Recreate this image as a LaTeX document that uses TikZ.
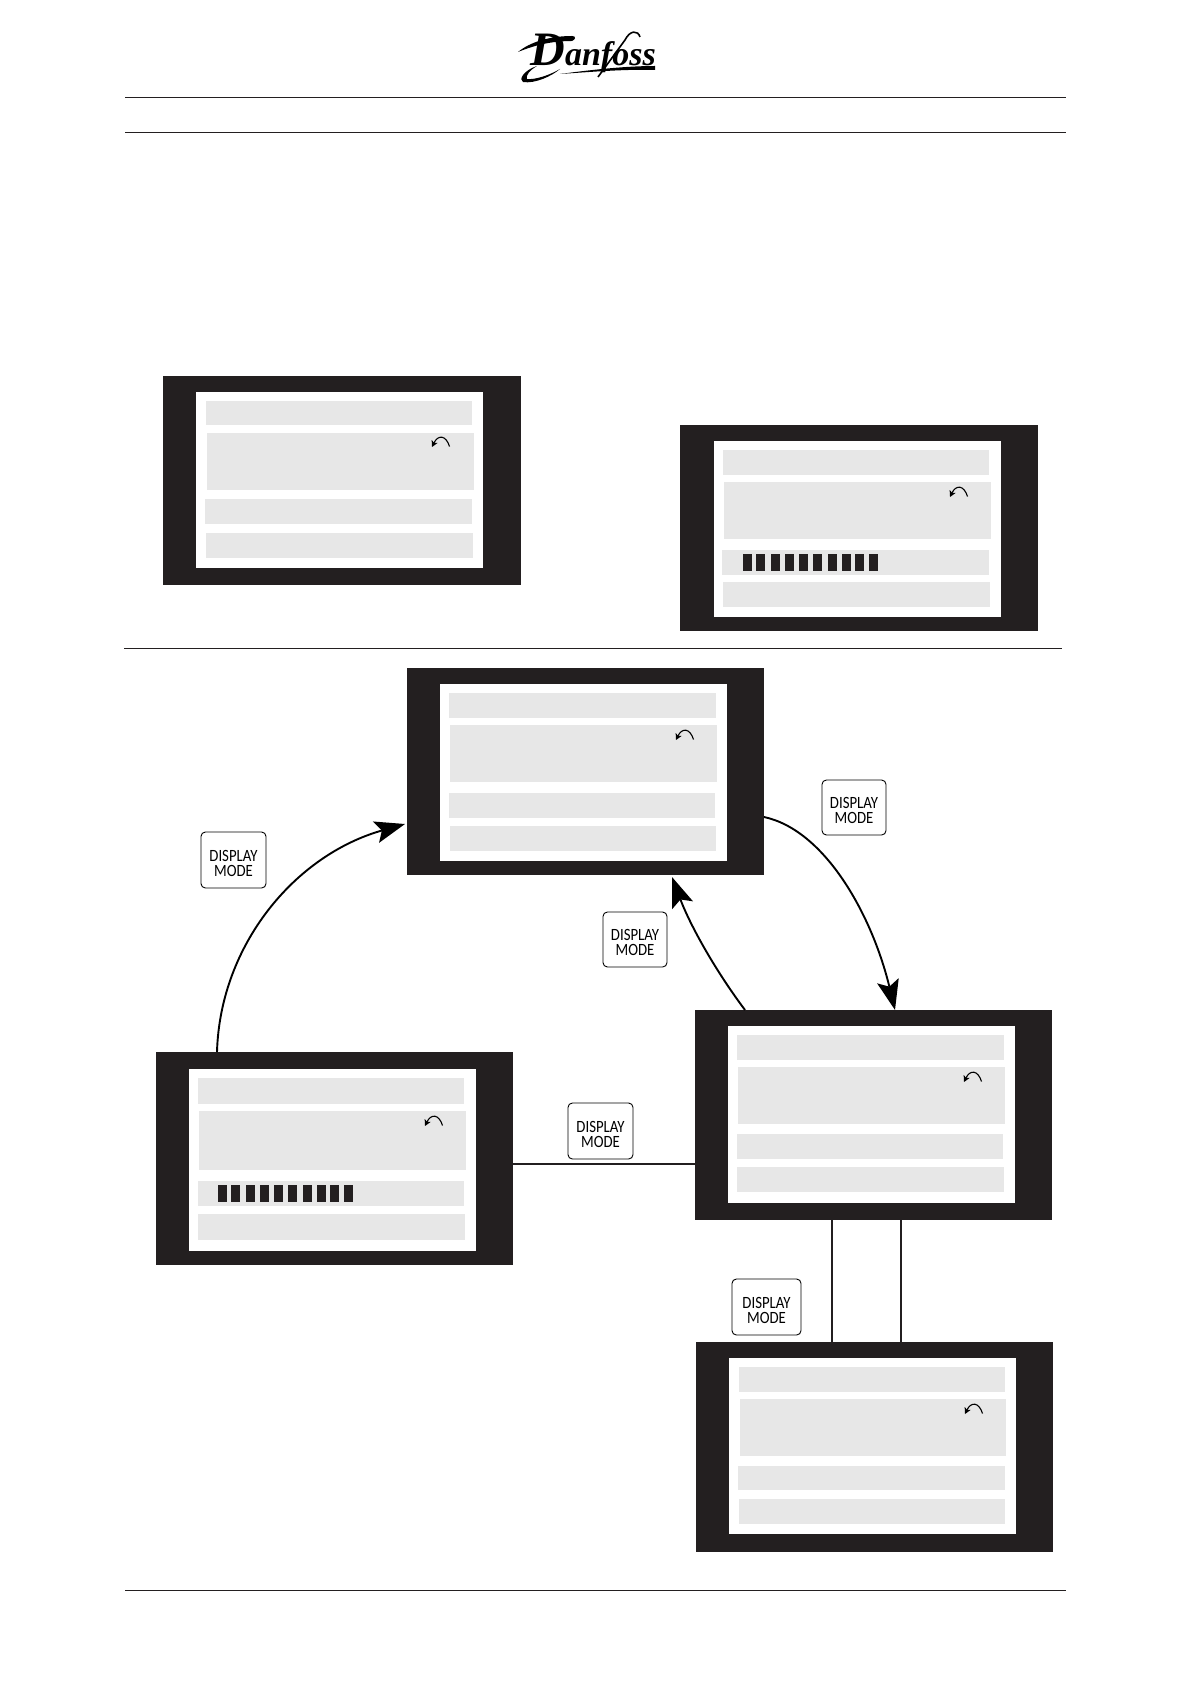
\documentclass[tikz,border=0pt]{standalone}
\usepackage{fontspec}
\setmainfont{Carlito}
\newfontfamily\logofont{Liberation Serif}
\usetikzlibrary{arrows.meta,calc}
\definecolor{scrdark}{HTML}{231F20}
\definecolor{scrbar}{HTML}{E7E7E7}
\tikzset{
  panel/.style={rectangle,inner sep=0pt,outer sep=0pt,anchor=north west},
  outerbox/.style={panel,fill=scrdark},
  innerbox/.style={panel,fill=white},
  barbox/.style={panel,fill=scrbar},
  blockbox/.style={panel,fill=scrdark},
  rule/.style={line width=0.45pt,color=scrdark},
  link/.style={line width=0.95pt,color=black},
  linkarrow/.style={link,-{Stealth[length=15pt,width=11pt,inset=3pt]}},
  plainlink/.style={line width=0.85pt,color=scrdark},
  keybox/.style={panel,draw=black,line width=0.45pt,rounded corners=2.2pt,align=center,
    font=\fontsize{8.6}{7.6}\selectfont,text=black},
  undoarrow/.style={line width=0.55pt,color=black,-{Stealth[length=3pt,width=3.2pt,inset=0.6pt]}}
}
% name, style, x1, y1, x2, y2 (in reference pixels)
\newcommand{\rectat}[6]{\node[#2,minimum width={(#5-(#3))*0.5pt},minimum height={(#6-(#4))*0.5pt}] (#1) at (#3,#4) {};}
\newcommand{\keyat}[5]{\node[keybox,minimum width={(#4-(#2))*0.5pt},minimum height={(#5-(#3))*0.5pt}] (#1) at (#2,#3) {\rule{0pt}{8.8pt}\scalebox{0.86}[1]{DISPLAY}\\[-0.3pt]\scalebox{0.86}[1]{MODE}};}
\newcommand{\undoat}[2]{\draw[undoarrow] (#1+17.5,#2+9.5) .. controls (#1+14,#2-2) and (#1+6,#2-2.5) .. (#1,#2+10);}
\newcommand{\blocksat}[3]{%
  \foreach \a/\b [count=\n] in {0/9,13/22,28/37,42/51,56/65,70/79,85/94,99/108,112/121,126/135}{
    \rectat{#1b\n}{blockbox}{#2+\a}{#3}{#2+\b}{#3+16.5}
  }}
\begin{document}
\begin{tikzpicture}[x=0.5pt,y=-0.5pt]
\useasboundingbox (0,0) rectangle (1190,1684);
\fill[white] (0,0) rectangle (1190,1684);

% logo
\node[inner sep=0pt,anchor=base west,text=black] (logotext) at (530,66)
  {\logofont\bfseries\itshape\fontsize{24}{24}\selectfont D\fontsize{17}{18}\selectfont anfoss};
\fill[black] (518,52) .. controls (530,42) and (550,36) .. (572,36) .. controls (577,36) and (575,40) .. (572,41)
  .. controls (552,41) and (535,45) .. (518,52) -- cycle;
\fill[black] (560,74) .. controls (590,70) and (625,66) .. (655,66) -- (655,70) .. controls (625,69) and (590,72) .. (560,74) -- cycle;
\fill[black] (537,66) .. controls (524,70) and (518,80) .. (523,82) .. controls (535,84) and (552,76) .. (560,69)
  .. controls (550,75) and (535,80) .. (527,79) .. controls (525,76) and (530,70) .. (537,66) -- cycle;
\draw[line width=0.8pt,black] (640,37) .. controls (638,30) and (630,30) .. (625,40) -- (598,77);

% rules
\coordinate (r1a) at (125,97);   \coordinate (r1b) at (1066,97);
\coordinate (r2a) at (125,132);  \coordinate (r2b) at (1066,132);
\coordinate (r3a) at (124,648);  \coordinate (r3b) at (1062,648);
\coordinate (r4a) at (125,1590); \coordinate (r4b) at (1066,1590);
\draw[rule] (r1a) -- (r1b);
\draw[rule] (r2a) -- (r2b);
\draw[rule] (r3a) -- (r3b);
\draw[rule] (r4a) -- (r4b);

% screen A (upper left)
\rectat{aO}{outerbox}{163}{376}{521}{585}
\rectat{aI}{innerbox}{196}{392}{483}{568}
\rectat{a1}{barbox}{206}{401}{472}{425}
\rectat{a2}{barbox}{207}{433}{474}{490}
\rectat{a3}{barbox}{205}{499}{472}{524}
\rectat{a4}{barbox}{206}{533}{473}{558}
\undoat{432}{437}

% screen B (upper right)
\rectat{bO}{outerbox}{680}{425}{1038}{631}
\rectat{bI}{innerbox}{714}{441}{1001}{617}
\rectat{b1}{barbox}{723}{450}{989}{475}
\rectat{b2}{barbox}{724}{482}{991}{539}
\rectat{b3}{barbox}{722}{550}{989}{575}
\rectat{b4}{barbox}{723}{582}{990}{607}
\undoat{950}{487}
\blocksat{bk}{743}{554}

% screen C (top centre)
\rectat{cO}{outerbox}{407}{668}{764}{875}
\rectat{cI}{innerbox}{440}{684}{727}{861}
\rectat{c1}{barbox}{449}{693}{716}{718}
\rectat{c2}{barbox}{450}{725}{717}{782}
\rectat{c3}{barbox}{449}{793}{715}{818}
\rectat{c4}{barbox}{450}{826}{716}{851}
\undoat{676}{730}

% screen D (right)
\rectat{dO}{outerbox}{695}{1010}{1052}{1220}
\rectat{dI}{innerbox}{728}{1026}{1015}{1203}
\rectat{d1}{barbox}{737}{1035}{1004}{1060}
\rectat{d2}{barbox}{738}{1067}{1005}{1124}
\rectat{d3}{barbox}{737}{1134}{1003}{1159}
\rectat{d4}{barbox}{737}{1167}{1004}{1192}
\undoat{964}{1072}

% screen E (left)
\rectat{eO}{outerbox}{156}{1052}{513}{1265}
\rectat{eI}{innerbox}{189}{1069}{476}{1251}
\rectat{e1}{barbox}{198}{1078}{464}{1104}
\rectat{e2}{barbox}{199}{1111}{466}{1170}
\rectat{e3}{barbox}{198}{1181}{464}{1206}
\rectat{e4}{barbox}{198}{1214}{465}{1240}
\undoat{425}{1116}
\blocksat{ek}{218}{1185}

% screen F (bottom)
\rectat{fO}{outerbox}{696}{1342}{1053}{1552}
\rectat{fI}{innerbox}{729}{1358}{1016}{1534}
\rectat{f1}{barbox}{739}{1367}{1005}{1392}
\rectat{f2}{barbox}{740}{1399}{1006}{1456}
\rectat{f3}{barbox}{738}{1466}{1005}{1490}
\rectat{f4}{barbox}{739}{1499}{1005}{1524}
\undoat{965}{1404}

% keys
\keyat{kTR}{822}{780}{886}{835}
\keyat{kM}{603}{912}{667}{967}
\keyat{kL}{201}{832}{266}{888}
\keyat{kLM}{568}{1103}{633}{1159}
\keyat{kB}{732}{1279}{801}{1335}

% connectors
\draw[linkarrow] ($(eO.north west)+(61,0)$) .. controls (220,945) and (295,855) .. ($(cO.north west)+(-2,156)$);
\draw[linkarrow] ($(cO.north east)+(0,149)$) .. controls (825,830) and (872,915) .. ($(dO.north west)+(200,0)$);
\draw[linkarrow] ($(dO.north west)+(50,0)$) .. controls (715,970) and (690,925) .. ($(cO.south west)+(265,2)$);
\draw[plainlink] ($(eO.north east)+(0,112)$) -- ($(dO.north west)+(0,154)$);
\draw[plainlink] ($(dO.south west)+(137,0)$) -- ($(fO.north west)+(136,0)$);
\draw[plainlink] ($(dO.south west)+(206,0)$) -- ($(fO.north west)+(205,0)$);
\end{tikzpicture}
\end{document}
